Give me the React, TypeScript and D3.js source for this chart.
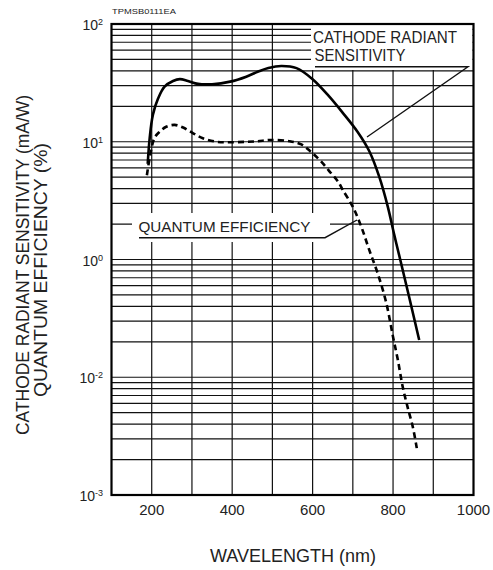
import { useEffect, useRef } from 'react';
import * as d3 from 'd3';

const W = 493;
const H = 570;

// axis ticks (labels copied as printed on the sheet)
const xTickValues = [200, 400, 600, 800, 1000];
const xGridValues = [200, 300, 400, 500, 600, 700, 800, 900];
const yTickValues = [100, 10, 1, 0.1, 0.01];
const yTickExp = ['2', '1', '0', '-2', '-3'];

// cathode radiant sensitivity (mA/W)
const sensNm = [190, 195, 203, 216, 232, 253, 270, 290, 315, 350, 395, 435, 465, 490, 522, 560, 600, 640, 675, 712, 741, 766, 787, 803, 820, 840, 865];
const sensVal = [6.5, 10.8, 17, 23.4, 29.4, 32.8, 34, 32.8, 31, 30.8, 32.4, 35.7, 39.5, 42.3, 44, 42.2, 34, 24.5, 17.6, 12.1, 8.3, 5.0, 2.8, 1.62, 0.93, 0.48, 0.207];

// quantum efficiency (%)
const qeNm = [188, 195, 207, 220, 236, 257, 278, 303, 327, 361, 394, 435, 464, 493, 543, 572, 596, 621, 646, 663, 675, 700, 721, 741, 762, 783, 800, 812, 824, 836, 849, 859];
const qeVal = [5.2, 7.3, 10.8, 12.2, 13.4, 13.9, 13.2, 11.8, 10.7, 10.0, 9.9, 10.0, 10.1, 10.35, 10.1, 9.5, 8.2, 6.8, 5.4, 4.6, 3.9, 2.8, 1.9, 1.2, 0.76, 0.43, 0.22, 0.14, 0.083, 0.056, 0.038, 0.025];

const FONT = '"Liberation Sans", Arial, sans-serif';

const App = () => {
  const ref = useRef<SVGSVGElement>(null);

  useEffect(() => {
    const svg = d3.select(ref.current);
    svg.selectAll('*').remove();

    const x = d3.scaleLinear().domain([100, 1000]).range([111.5, 473.5]);
    const y = d3.scaleLog().domain([0.01, 100]).range([495, 24]);
    const [x0, x1] = x.range();
    const [y0, y1] = y.range();

    svg.append('rect').attr('width', W).attr('height', H).attr('fill', '#fff');

    // log grid
    const minor: number[] = [];
    [-2, -1, 0, 1].forEach(e => {
      for (let k = 1; k <= 9; k++) minor.push(k * Math.pow(10, e));
    });
    const g = svg.append('g').attr('stroke', '#111').attr('stroke-width', 1.2);
    g.selectAll('line.h')
      .data(minor.filter(v => v > 0.01))
      .enter().append('line')
      .attr('x1', x0).attr('x2', x1)
      .attr('y1', d => y(d)).attr('y2', d => y(d));
    g.selectAll('line.v')
      .data(xGridValues)
      .enter().append('line')
      .attr('x1', d => x(d)).attr('x2', d => x(d))
      .attr('y1', y0).attr('y2', y1);

    // white backing for the in-plot labels
    svg.append('rect').attr('x', 311).attr('y', y1 + 1).attr('width', x1 - 312).attr('height', 45).attr('fill', '#fff');
    svg.append('rect').attr('x', 132).attr('y', 213).attr('width', 198).attr('height', 29).attr('fill', '#fff');

    // frame
    svg.append('rect')
      .attr('x', x0).attr('y', y1)
      .attr('width', x1 - x0).attr('height', y0 - y1)
      .attr('fill', 'none').attr('stroke', '#000').attr('stroke-width', 2.2);

    // curves
    const line = d3.line<[number, number]>()
      .x(d => x(d[0]))
      .y(d => y(d[1]))
      .curve(d3.curveCatmullRom.alpha(0.5));

    svg.append('path')
      .attr('d', line(sensNm.map((n, i) => [n, sensVal[i]]) as [number, number][]))
      .attr('fill', 'none').attr('stroke', '#000').attr('stroke-width', 2.6);

    svg.append('path')
      .attr('d', line(qeNm.map((n, i) => [n, qeVal[i]]) as [number, number][]))
      .attr('fill', 'none').attr('stroke', '#000').attr('stroke-width', 2.6)
      .attr('stroke-dasharray', '6,4');

    // in-plot labels + leaders
    const t = svg.append('g').attr('font-family', FONT).attr('fill', '#222');
    t.append('text').attr('x', 313).attr('y', 42.5).attr('font-size', 16.5)
      .attr('textLength', 144).attr('lengthAdjust', 'spacingAndGlyphs').text('CATHODE RADIANT');
    t.append('text').attr('x', 314.5).attr('y', 61).attr('font-size', 16.5)
      .attr('textLength', 91).attr('lengthAdjust', 'spacingAndGlyphs').text('SENSITIVITY');
    t.append('text').attr('x', 138.5).attr('y', 231.7).attr('font-size', 15.3)
      .attr('textLength', 172).attr('lengthAdjust', 'spacingAndGlyphs').text('QUANTUM EFFICIENCY');

    const lead = svg.append('g').attr('stroke', '#111').attr('stroke-width', 1.4).attr('fill', 'none');
    lead.append('polyline').attr('points', '315,66.7 468,66.7 367,137');
    lead.append('polyline').attr('points', '139,237.7 325,237.7 357,220');

    // tick labels
    const lab = svg.append('g').attr('font-family', FONT).attr('fill', '#222');
    lab.selectAll('text.x')
      .data(xTickValues)
      .enter().append('text')
      .attr('x', d => x(d)).attr('y', 515)
      .attr('text-anchor', 'middle').attr('font-size', 15)
      .text(d => d);

    yTickValues.forEach((v, i) => {
      const tx = lab.append('text')
        .attr('x', 103).attr('y', y(v) + 6)
        .attr('text-anchor', 'end').attr('font-size', 14);
      tx.append('tspan').text('10');
      tx.append('tspan').attr('font-size', 9).attr('dy', -5).text(yTickExp[i]);
    });

    // axis titles
    lab.append('text')
      .attr('x', 293).attr('y', 562)
      .attr('text-anchor', 'middle').attr('font-size', 18)
      .text('WAVELENGTH (nm)');
    lab.append('text')
      .attr('transform', 'translate(28.5,265) rotate(-90)')
      .attr('text-anchor', 'middle').attr('font-size', 18)
      .attr('textLength', 340).attr('lengthAdjust', 'spacingAndGlyphs')
      .text('CATHODE RADIANT SENSITIVITY (mA/W)');
    lab.append('text')
      .attr('transform', 'translate(47,270) rotate(-90)')
      .attr('text-anchor', 'middle').attr('font-size', 18)
      .attr('textLength', 254).attr('lengthAdjust', 'spacingAndGlyphs')
      .text('QUANTUM EFFICIENCY (%)');

    lab.append('text')
      .attr('x', 112).attr('y', 14)
      .attr('font-size', 7.5)
      .attr('textLength', 64).attr('lengthAdjust', 'spacingAndGlyphs')
      .text('TPMSB0111EA');
  }, []);

  return (
    <svg
      ref={ref}
      width={W}
      height={H}
      style={{ position: 'absolute', left: 0, top: 0 }}
    />
  );
};

export default App;
